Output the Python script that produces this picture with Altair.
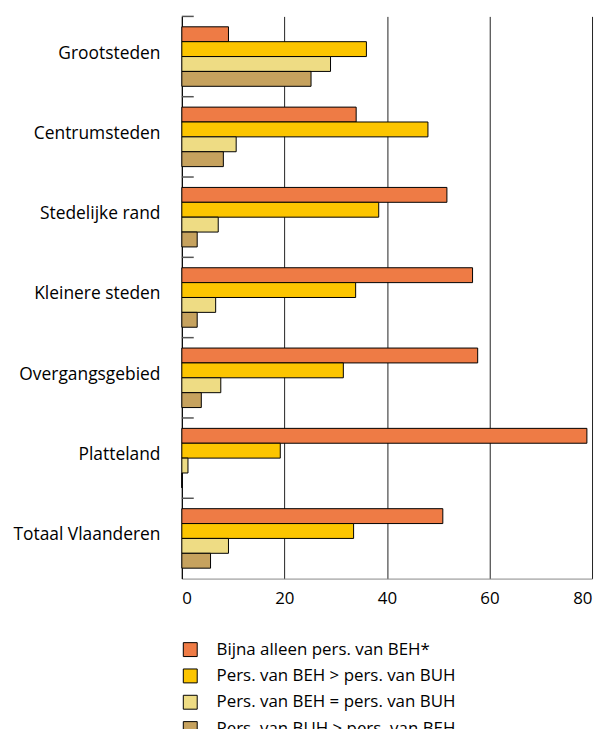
import altair as alt
import pandas as pd

categories = ["Grootsteden", "Centrumsteden", "Stedelijke rand", "Kleinere steden",
              "Overgangsgebied", "Platteland", "Totaal Vlaanderen"]
series = ["Bijna alleen pers. van BEH*", "Pers. van BEH > pers. van BUH",
          "Pers. van BEH = pers. van BUH", "Pers. van BUH > pers. van BEH"]
v_bijna = [9.1, 34.0, 51.7, 56.7, 57.7, 79.0, 50.9]
v_groter = [36.0, 48.0, 38.4, 33.9, 31.5, 19.2, 33.5]
v_gelijk = [29.0, 10.6, 7.1, 6.6, 7.6, 1.2, 9.1]
v_kleiner = [25.2, 8.1, 3.0, 3.0, 3.8, 0.0, 5.6]
colors = ["#EE7B45", "#FCC500", "#EEDC84", "#C6A25E"]
x_ticks = [0, 20, 40, 60, 80]

rows = []
for s, vals in zip(series, [v_bijna, v_groter, v_gelijk, v_kleiner]):
    for c, v in zip(categories, vals):
        rows.append({"cat": c, "serie": s, "val": v})
df = pd.DataFrame(rows)
sep = pd.DataFrame({"cat": categories})

FONT = "Open Sans"

y_axis = alt.Axis(ticks=False, domain=True, domainColor="black", title=None,
                  labelFontSize=17.5, labelFont=FONT, labelColor="black",
                  labelPadding=22, labelOffset=-3, labelLimit=0)

bars = alt.Chart(df).mark_bar(stroke="black", strokeWidth=1).encode(
    y=alt.Y("cat:N", sort=categories, title=None,
            scale=alt.Scale(paddingInner=0, paddingOuter=0),
            axis=y_axis),
    yOffset=alt.YOffset("serie:N", sort=series,
                        scale=alt.Scale(paddingOuter=0.7, paddingInner=0)),
    x=alt.X("val:Q", title=None,
            scale=alt.Scale(domain=[0, 80], nice=False),
            axis=alt.Axis(values=x_ticks, ticks=False, grid=True, gridColor="#222",
                          gridWidth=1, domainColor="#888", labelFontSize=17,
                          labelFont=FONT, labelColor="black", labelPadding=12)),
    color=alt.Color("serie:N", sort=series,
                    scale=alt.Scale(domain=series, range=colors),
                    legend=alt.Legend(title=None, orient="none", legendX=0, legendY=629,
                                      direction="vertical", symbolType="square",
                                      symbolSize=196, symbolStrokeColor="black",
                                      symbolStrokeWidth=1, labelFontSize=17,
                                      labelFont=FONT, labelColor="black",
                                      labelOffset=18, rowPadding=7.5, padding=0,
                                      labelLimit=0)),
)

ticks = alt.Chart(sep).mark_rule(color="#555", strokeWidth=1.5).encode(
    y=alt.Y("cat:N", sort=categories, bandPosition=0, title=None, axis=y_axis),
    x=alt.value(0),
    x2=alt.value(12),
)

chart = alt.layer(bars, ticks).properties(
    width=413, height=566,
    autosize=alt.AutoSizeParams(type="none"),
    padding={"left": 175, "top": 6, "right": 5, "bottom": 152},
).configure_view(stroke=None)

chart.save("out.html", embed_options={"renderer": "svg", "actions": False})
